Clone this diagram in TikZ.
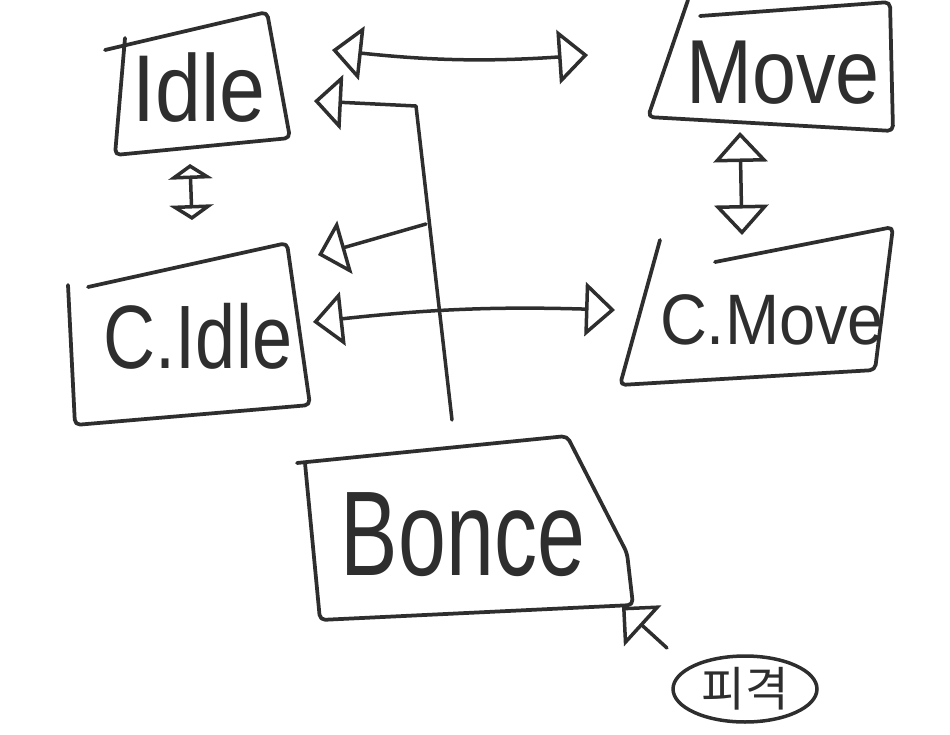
\documentclass[tikz,border=0pt]{standalone}
\usepackage{fontspec}
\setmainfont{Liberation Sans}
\newfontfamily\kofont{Noto Sans CJK KR}
\usepackage{tikz}
\usetikzlibrary{arrows.meta,calc,shapes.geometric}
\definecolor{pen}{RGB}{46,46,46}

\begin{document}
\begin{tikzpicture}[
  x=0.02cm, y=-0.02cm,
  statetext/.style={inner sep=0pt, text=pen, font=\fontsize{#1}{#1}\selectfont},
  frame/.style={draw=pen, line width=0.075cm, rounded corners=3pt, line join=round, line cap=round},
  wire/.style={draw=pen, line width=0.07cm, line join=round, line cap=round},
  bigtip/.style={wire, -{Triangle[open, length=0.56cm, width=1.1cm]}},
  bigboth/.style={wire, {Triangle[open, length=0.6cm, width=1.08cm]}-{Triangle[open, length=0.6cm, width=1.08cm]}},
  flatboth/.style={wire, {Triangle[open, length=0.3cm, width=0.88cm]}-{Triangle[open, length=0.3cm, width=0.88cm]}},
  hitnode/.style={ellipse, draw=pen, line width=0.07cm, inner sep=0pt,
    minimum width=2.88cm, minimum height=1.32cm, text=pen, font=\kofont\fontsize{27}{27}\selectfont}
]
  \useasboundingbox (0,0) rectangle (950,734);

  % hand drawn frames
  \draw[frame] (105,50) -- (267,12) -- (290,138) -- (115,155) -- (125,38);
  \draw[frame] (688,0) -- (648,117) -- (893,131) -- (890,2) -- (700,16);
  \draw[frame] (88,287) -- (287,243) -- (310,405) -- (75,425) -- (68,285);
  \draw[frame] (715,262) -- (893,227) -- (875,370) -- (620,385) -- (660,240);
  \draw[frame] (297,463) -- (567,436) -- (627,553) -- (633,605) -- (320,620) -- (305,463);

  \node[statetext=47, yscale=1.15] (idle) at (199,88) {Idle};
  \node[statetext=45, yscale=1.15] (move) at (783,73) {Move};
  \node[statetext=41, yscale=1.25] (cidle) at (198,336) {C.Idle};
  \node[statetext=37, yscale=1.1] (cmove) at (772,320) {C.Move};
  \node[statetext=49, yscale=1.4] (bonce) at (463,535) {Bonce};
  \node[hitnode] (hit) at (745,689) {피격};

  \coordinate (bend) at (416,106);
  \coordinate (fork) at (426,224);

  \draw[bigboth] ($(idle)+(133,-38)$) to[bend right=5] ($(move)+(-195,-18)$);
  \draw[bigboth] ($(cidle)+(115,-14)$) to[bend left=4] ($(cmove)+(-157,-10)$);
  \draw[flatboth] ($(idle)+(-9,76)$) -- ($(cidle)+(-6,-116)$);
  \draw[bigboth] ($(move)+(-43,59)$) -- ($(cmove)+(-30,-85)$);

  \draw[bigtip] ($(bonce)+(-11,-115)$) -- (bend) -- ($(idle)+(115,13)$);
  \draw[bigtip] (fork) -- ($(cidle)+(120,-81)$);
  \draw[bigtip] ($(hit)+(-78,-41)$) -- ($(bonce)+(159,72)$);
\end{tikzpicture}
\end{document}
